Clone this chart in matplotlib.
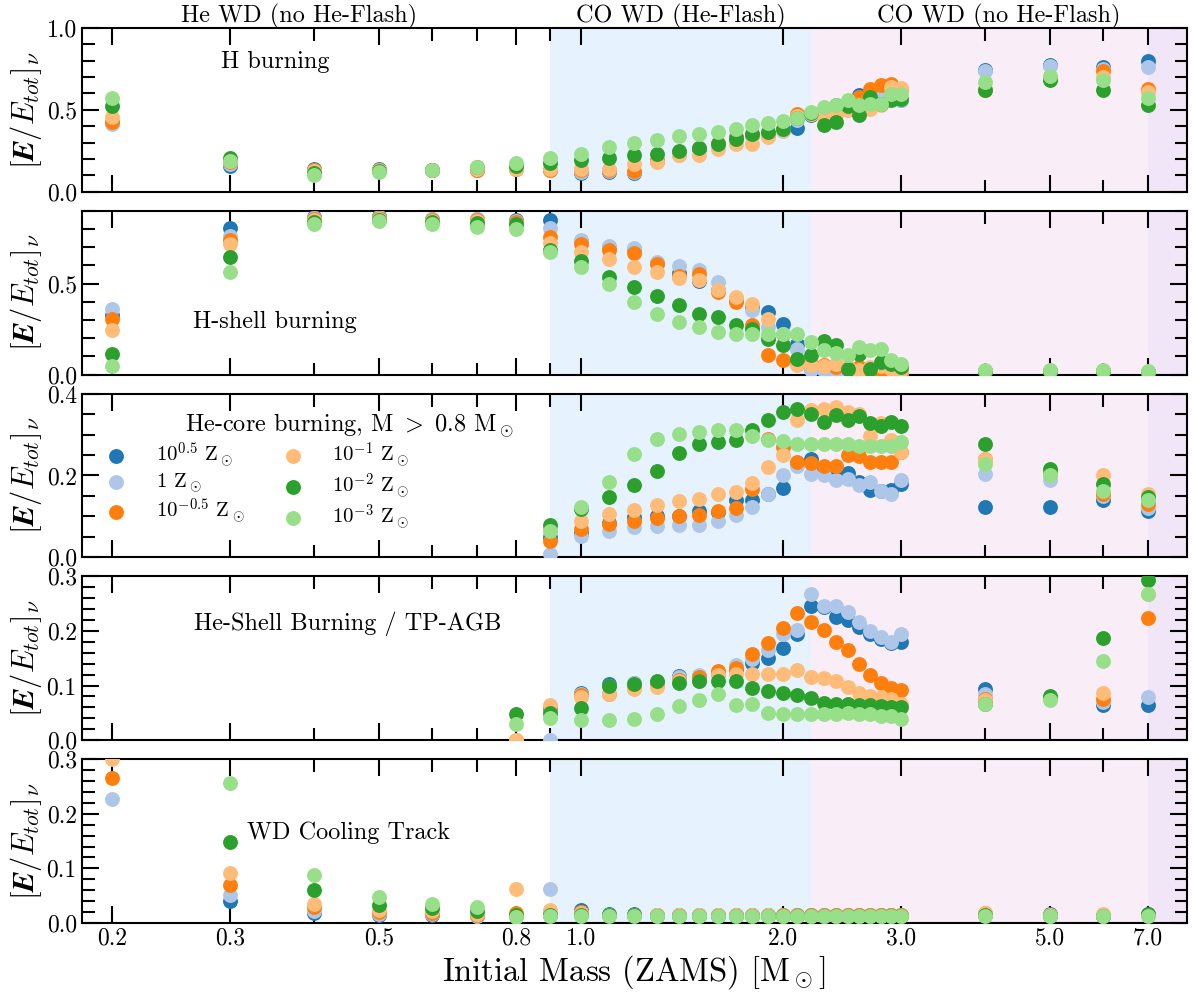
import numpy as np
import matplotlib
matplotlib.use("Agg")
import matplotlib.pyplot as plt
from matplotlib.ticker import MultipleLocator, FormatStrFormatter, NullFormatter
import matplotlib.transforms as mtransforms

plt.rcParams['font.family'] = 'serif'
plt.rcParams['font.serif'] = ['cmr10']
plt.rcParams['mathtext.fontset'] = 'cm'
plt.rcParams['axes.formatter.use_mathtext'] = True

nan = np.nan

# ---------------- data ----------------
masses = [0.2, 0.3, 0.4, 0.5, 0.6, 0.7, 0.8,
          0.9, 1.0, 1.1, 1.2, 1.3, 1.4, 1.5,
          1.6, 1.7, 1.8, 1.9, 2.0, 2.1, 2.2,
          2.3, 2.4, 2.5, 2.6, 2.7, 2.8, 2.9, 3.0,
          4.0, 5.0, 6.0, 7.0]

series_labels = [r'$10^{0.5}$ Z$_\odot$', r'1 Z$_\odot$', r'$10^{-0.5}$ Z$_\odot$',
                 r'$10^{-1}$ Z$_\odot$', r'$10^{-2}$ Z$_\odot$', r'$10^{-3}$ Z$_\odot$']
series_colors = ['#1f77b4', '#aec7e8', '#ff7f0e', '#ffbb78', '#2ca02c', '#98df8a']

panel_titles = ['H burning', 'H-shell burning',
                r'He-core burning, M$\ >\ $0.8 M$_\odot$',
                'He-Shell Burning / TP-AGB', 'WD Cooling Track']

region_labels = ['He WD (no He-Flash)', 'CO WD (He-Flash)', 'CO WD (no He-Flash)']
region_label_x = [0.38, 1.41, 4.2]
region_edges = [0.9, 2.2, 7.0]

xtick_vals = [0.2, 0.3, 0.5, 0.8, 1.0, 2.0, 3.0, 5.0, 7.0]
xtick_minor_vals = [0.4, 0.6, 0.7, 0.9, 4.0, 6.0]

# Panel 1: H burning
h_burn_zp05 = [0.42, 0.155, 0.14, 0.14, 0.135, 0.13, 0.14,
               0.13, 0.115, 0.12, 0.112, 0.19, 0.233, 0.26,
               0.29, 0.335, 0.345, 0.355, 0.375, 0.39, 0.47,
               0.50, 0.527, 0.52, 0.588, 0.608, 0.63, 0.64, 0.558,
               0.746, 0.771, 0.76, 0.797]
h_burn_z0 = [0.415, 0.17, 0.135, 0.13, 0.132, 0.13, 0.14,
             0.13, 0.12, 0.125, 0.118, 0.19, 0.225, 0.27,
             0.28, 0.31, 0.34, 0.34, 0.37, 0.44, 0.475,
             0.49, 0.51, 0.52, 0.57, 0.59, 0.61, 0.58, 0.56,
             0.74, 0.765, 0.75, 0.76]
h_burn_zm05 = [0.425, 0.18, 0.13, 0.13, 0.133, 0.135, 0.14,
               0.135, 0.13, 0.132, 0.128, 0.195, 0.24, 0.265,
               0.30, 0.33, 0.355, 0.345, 0.385, 0.477, 0.48,
               0.49, 0.51, 0.53, 0.578, 0.629, 0.649, 0.66, 0.63,
               0.62, 0.69, 0.74, 0.629]
h_burn_zm1 = [0.456, 0.185, 0.125, 0.13, 0.133, 0.14, 0.136,
              0.14, 0.142, 0.142, 0.172, 0.183, 0.223, 0.223,
              0.264, 0.294, 0.294, 0.335, 0.38, 0.46, 0.475,
              0.456, 0.467, 0.497, 0.517, 0.507, 0.527, 0.64, 0.635,
              0.63, 0.70, 0.70, 0.61]
h_burn_zm2 = [0.521, 0.209, 0.115, 0.125, 0.135, 0.15, 0.16,
              0.175, 0.193, 0.207, 0.223, 0.233, 0.25, 0.268,
              0.294, 0.325, 0.355, 0.365, 0.385, 0.45, 0.48,
              0.406, 0.426, 0.521, 0.467, 0.578, 0.537, 0.558, 0.568,
              0.619, 0.68, 0.619, 0.531]
h_burn_zm3 = [0.572, 0.185, 0.10, 0.118, 0.132, 0.152, 0.178,
              0.209, 0.233, 0.274, 0.30, 0.314, 0.339, 0.351,
              0.365, 0.385, 0.406, 0.42, 0.432, 0.452, 0.49,
              0.52, 0.527, 0.558, 0.527, 0.537, 0.537, 0.598, 0.598,
              0.67, 0.704, 0.68, 0.572]

# Panel 2: H-shell burning
h_shell_zp05 = [0.33, 0.808, 0.866, 0.87, 0.857, 0.857, 0.848,
                0.848, 0.735, 0.70, 0.69, 0.615, 0.56, 0.515,
                0.463, 0.41, 0.37, 0.344, 0.28, 0.167, 0.03,
                0.02, 0.02, 0.02, 0.015, 0.01, 0.01, 0.01, 0.01,
                0.02, 0.02, 0.02, 0.015]
h_shell_z0 = [0.359, 0.76, 0.862, 0.865, 0.855, 0.855, 0.845,
              0.808, 0.738, 0.705, 0.698, 0.62, 0.595, 0.573,
              0.509, 0.42, 0.353, 0.26, 0.225, 0.14, 0.024,
              0.024, 0.015, 0.015, 0.01, 0.01, 0.01, 0.01, 0.01,
              0.02, 0.02, 0.02, 0.015]
h_shell_zm05 = [0.308, 0.738, 0.857, 0.86, 0.85, 0.85, 0.84,
                0.756, 0.72, 0.687, 0.668, 0.61, 0.54, 0.555,
                0.454, 0.40, 0.271, 0.106, 0.079, 0.07, 0.06,
                0.05, 0.04, 0.033, 0.04, 0.02, 0.025, 0.02, 0.015,
                0.02, 0.02, 0.02, 0.015]
h_shell_zm1 = [0.244, 0.72, 0.85, 0.855, 0.845, 0.845, 0.83,
               0.723, 0.674, 0.637, 0.59, 0.564, 0.533, 0.518,
               0.467, 0.427, 0.39, 0.308, 0.22, 0.05, 0.05,
               0.047, 0.06, 0.04, 0.025, 0.04, 0.045, 0.03, 0.025,
               0.02, 0.02, 0.02, 0.015]
h_shell_zm2 = [0.112, 0.646, 0.839, 0.85, 0.84, 0.835, 0.83,
               0.683, 0.623, 0.537, 0.48, 0.43, 0.381, 0.335,
               0.317, 0.27, 0.25, 0.198, 0.161, 0.088, 0.106,
               0.185, 0.161, 0.033, 0.115, 0.033, 0.07, 0.06, 0.042,
               0.02, 0.02, 0.02, 0.015]
h_shell_zm3 = [0.048, 0.564, 0.83, 0.845, 0.83, 0.81, 0.80,
               0.674, 0.59, 0.50, 0.40, 0.335, 0.29, 0.262,
               0.234, 0.225, 0.225, 0.225, 0.225, 0.225, 0.18,
               0.137, 0.119, 0.106, 0.152, 0.137, 0.143, 0.079, 0.06,
               0.027, 0.025, 0.025, 0.02]

# Panel 3: He-core burning
he_core_zp05 = [nan, nan, nan, nan, nan, nan, nan,
                0.05, 0.06, 0.085, 0.098, 0.102, 0.102, 0.114,
                0.11, 0.139, 0.14, 0.155, 0.17, 0.23, 0.239,
                0.219, 0.212, 0.206, 0.184, 0.165, 0.163, 0.165, 0.18,
                0.124, 0.122, 0.139, 0.114]
he_core_z0 = [nan, nan, nan, nan, nan, nan, nan,
              0.007, 0.053, 0.065, 0.073, 0.076, 0.08, 0.08,
              0.09, 0.104, 0.122, 0.155, 0.20, 0.224, 0.204,
              0.20, 0.188, 0.192, 0.176, 0.184, 0.163, 0.155, 0.188,
              0.204, 0.188, 0.15, 0.12]
he_core_zm05 = [nan, nan, nan, nan, nan, nan, nan,
                0.039, 0.069, 0.082, 0.09, 0.096, 0.10, 0.104,
                0.113, 0.121, 0.167, 0.29, 0.27, 0.233, 0.23,
                0.224, 0.224, 0.249, 0.247, 0.233, 0.233, 0.233, 0.257,
                0.241, 0.205, 0.155, 0.131]
he_core_zm1 = [nan, nan, nan, nan, nan, nan, nan,
               0.07, 0.088, 0.106, 0.116, 0.129, 0.137, 0.143,
               0.155, 0.159, 0.181, 0.22, 0.249, 0.335, 0.361,
               0.363, 0.366, 0.355, 0.351, 0.296, 0.327, 0.287, 0.257,
               0.241, 0.20, 0.20, 0.155]
he_core_zm2 = [nan, nan, nan, nan, nan, nan, nan,
               0.08, 0.118, 0.147, 0.176, 0.212, 0.255, 0.276,
               0.282, 0.286, 0.312, 0.336, 0.355, 0.363, 0.351,
               0.33, 0.347, 0.336, 0.344, 0.328, 0.322, 0.33, 0.322,
               0.278, 0.216, 0.18, 0.147]
he_core_zm3 = [nan, nan, nan, nan, nan, nan, nan,
               0.064, 0.122, 0.184, 0.253, 0.288, 0.302, 0.306,
               0.31, 0.312, 0.296, 0.287, 0.283, 0.278, 0.278,
               0.278, 0.278, 0.278, 0.271, 0.273, 0.271, 0.273, 0.282,
               0.229, 0.20, 0.162, 0.139]

# Panel 4: He-shell burning / TP-AGB
he_shell_zp05 = [nan, nan, nan, nan, nan, nan, nan,
                 0.058, 0.087, 0.102, 0.104, 0.105, 0.117, 0.117,
                 0.122, 0.131, 0.141, 0.151, 0.168, 0.194, 0.245,
                 0.243, 0.226, 0.22, 0.207, 0.195, 0.186, 0.178, 0.18,
                 0.093, 0.077, 0.065, 0.065]
he_shell_z0 = [nan, nan, nan, nan, nan, nan, nan,
               0.0, 0.085, 0.10, 0.104, 0.105, 0.116, 0.119,
               0.125, 0.137, 0.149, 0.165, 0.195, 0.202, 0.267,
               0.245, 0.245, 0.235, 0.216, 0.20, 0.189, 0.18, 0.195,
               0.084, 0.077, 0.07, 0.079]
he_shell_zm05 = [nan, nan, nan, nan, nan, nan, 0.0,
                 0.058, 0.082, 0.085, 0.095, 0.103, 0.111, 0.115,
                 0.126, 0.133, 0.157, 0.178, 0.205, 0.233, 0.216,
                 0.202, 0.18, 0.166, 0.139, 0.119, 0.104, 0.095, 0.091,
                 0.076, 0.077, 0.076, 0.223]
he_shell_zm1 = [nan, nan, nan, nan, nan, nan, 0.0,
                0.064, 0.079, 0.084, 0.093, 0.098, 0.109, 0.109,
                0.119, 0.121, 0.121, 0.121, 0.122, 0.129, 0.116,
                0.113, 0.109, 0.098, 0.087, 0.08, 0.079, 0.076, 0.067,
                0.073, 0.077, 0.087, 0.267]
he_shell_zm2 = [nan, nan, nan, nan, nan, nan, 0.048,
                0.049, 0.058, 0.10, 0.102, 0.108, 0.104, 0.108,
                0.108, 0.108, 0.096, 0.09, 0.087, 0.082, 0.078,
                0.068, 0.067, 0.067, 0.064, 0.064, 0.062, 0.061, 0.061,
                0.067, 0.08, 0.187, 0.294]
he_shell_zm3 = [nan, nan, nan, nan, nan, nan, 0.029,
                0.041, 0.037, 0.037, 0.038, 0.048, 0.062, 0.074,
                0.084, 0.064, 0.067, 0.049, 0.047, 0.048, 0.048,
                0.048, 0.048, 0.049, 0.048, 0.048, 0.044, 0.044, 0.038,
                0.067, 0.073, 0.145, 0.268]

# Panel 5: WD cooling track
wd_cool_zp05 = [0.33, 0.041, 0.018, 0.014, 0.014, 0.012, 0.012,
                0.015, 0.024, 0.016, 0.016, 0.015, 0.015, 0.015,
                0.015, 0.015, 0.015, 0.015, 0.015, 0.015, 0.015,
                0.015, 0.015, 0.015, 0.014, 0.014, 0.014, 0.014, 0.014,
                0.015, 0.016, 0.013, 0.017]
wd_cool_z0 = [0.227, 0.052, 0.021, 0.016, 0.016, 0.013, 0.012,
              0.062, 0.02, 0.014, 0.014, 0.014, 0.014, 0.014,
              0.014, 0.014, 0.014, 0.014, 0.014, 0.014, 0.014,
              0.014, 0.014, 0.014, 0.014, 0.014, 0.014, 0.014, 0.014,
              0.014, 0.015, 0.012, 0.015]
wd_cool_zm05 = [0.265, 0.07, 0.029, 0.02, 0.018, 0.015, 0.018,
                0.02, 0.02, 0.015, 0.015, 0.015, 0.015, 0.015,
                0.015, 0.015, 0.015, 0.015, 0.014, 0.014, 0.014,
                0.014, 0.014, 0.014, 0.014, 0.014, 0.014, 0.014, 0.014,
                0.018, 0.014, 0.013, 0.014]
wd_cool_zm1 = [0.301, 0.091, 0.035, 0.023, 0.021, 0.017, 0.062,
               0.024, 0.018, 0.014, 0.014, 0.014, 0.014, 0.014,
               0.014, 0.014, 0.014, 0.014, 0.013, 0.013, 0.013,
               0.013, 0.013, 0.013, 0.013, 0.013, 0.013, 0.013, 0.013,
               0.019, 0.014, 0.016, 0.014]
wd_cool_zm2 = [0.36, 0.149, 0.06, 0.032, 0.027, 0.021, 0.015,
               0.015, 0.014, 0.014, 0.015, 0.013, 0.013, 0.013,
               0.013, 0.013, 0.013, 0.013, 0.013, 0.013, 0.013,
               0.013, 0.013, 0.013, 0.013, 0.013, 0.013, 0.013, 0.013,
               0.015, 0.013, 0.013, 0.017]
wd_cool_zm3 = [0.40, 0.257, 0.087, 0.047, 0.035, 0.03, 0.011,
               0.012, 0.012, 0.012, 0.012, 0.012, 0.012, 0.012,
               0.012, 0.012, 0.012, 0.012, 0.012, 0.012, 0.012,
               0.012, 0.012, 0.012, 0.012, 0.012, 0.012, 0.012, 0.012,
               0.012, 0.012, 0.012, 0.013]

panels = [
    [h_burn_zp05, h_burn_z0, h_burn_zm05, h_burn_zm1, h_burn_zm2, h_burn_zm3],
    [h_shell_zp05, h_shell_z0, h_shell_zm05, h_shell_zm1, h_shell_zm2, h_shell_zm3],
    [he_core_zp05, he_core_z0, he_core_zm05, he_core_zm1, he_core_zm2, he_core_zm3],
    [he_shell_zp05, he_shell_z0, he_shell_zm05, he_shell_zm1, he_shell_zm2, he_shell_zm3],
    [wd_cool_zp05, wd_cool_z0, wd_cool_zm05, wd_cool_zm1, wd_cool_zm2, wd_cool_zm3],
]

# ---------------- styling per panel ----------------
ylims = [(0, 1.0), (0, 0.9), (0, 0.4), (0, 0.3), (0, 0.3)]
ymajor = [0.5, 0.5, 0.2, 0.1, 0.1]
yminor = [0.1, 0.1, 0.05, 0.02, 0.02]
title_pos = [(0.175, 0.79, 'center'), (0.175, 0.32, 'center'), (0.243, 0.80, 'center'),
             (0.241, 0.71, 'center'), (0.150, 0.548, 'left')]

shade_colors = ['#e6f2fd', '#f9eef8', '#f1e5f8']

fig = plt.figure(figsize=(11.92, 9.92), dpi=100)
axes = fig.subplots(5, 1, sharex=True)
fig.subplots_adjust(left=0.0685, right=0.9955, top=0.9718, bottom=0.0696, hspace=0.116)

xmin, xmax = 0.18, 8.0
for i, ax in enumerate(axes):
    ax.set_xscale('log')
    ax.set_xlim(xmin, xmax)
    ax.set_ylim(*ylims[i])
    ax.axvspan(region_edges[0], region_edges[1], color=shade_colors[0], lw=0, zorder=0)
    ax.axvspan(region_edges[1], region_edges[2], color=shade_colors[1], lw=0, zorder=0)
    ax.axvspan(region_edges[2], xmax, color=shade_colors[2], lw=0, zorder=0)
    for vals, col, lab in zip(panels[i], series_colors, series_labels):
        ax.scatter(masses, vals, s=115, color=col, linewidths=0, label=lab, zorder=3)
    ax.yaxis.set_major_locator(MultipleLocator(ymajor[i]))
    ax.yaxis.set_minor_locator(MultipleLocator(yminor[i]))
    ax.yaxis.set_major_formatter(FormatStrFormatter('%.1f'))
    ax.set_xticks(xtick_vals)
    ax.set_xticks(xtick_minor_vals, minor=True)
    ax.xaxis.set_minor_formatter(NullFormatter())
    ax.tick_params(which='both', direction='in', top=True, right=True, width=1.5,
                   labelsize=17)
    ax.tick_params(which='major', length=12)
    ax.tick_params(which='minor', length=9)
    for sp in ax.spines.values():
        sp.set_linewidth(1.5)
    ax.set_ylabel(r'$\boldsymbol{[E/E_{tot}]_\nu}$', fontsize=22)
    ax.yaxis.set_label_coords(-0.034, 0.5)
    tx, ty, ha = title_pos[i]
    ax.text(tx, ty, panel_titles[i], transform=ax.transAxes, fontsize=17.5,
            ha=ha, va='center', zorder=5)
    if i < 4:
        ax.tick_params(axis='x', which='both', labelbottom=False)

axes[-1].set_xticklabels(['%.1f' % v for v in xtick_vals])
axes[-1].set_xlabel(r'Initial Mass (ZAMS) [M$_\odot$]', fontsize=23.5, labelpad=2)

trans = mtransforms.blended_transform_factory(axes[0].transData, axes[0].transAxes)
for lab, xv in zip(region_labels, region_label_x):
    axes[0].text(xv, 1.07, lab, transform=trans, ha='center', va='center', fontsize=17.5)

leg = axes[2].legend(loc='upper left', bbox_to_anchor=(0.005, 0.765), ncol=2, frameon=False,
                     fontsize=15, handletextpad=0.9, columnspacing=1.3, labelspacing=0.05,
                     markerscale=1.0, borderaxespad=0.0)

fig.savefig('out.png', dpi=100)
